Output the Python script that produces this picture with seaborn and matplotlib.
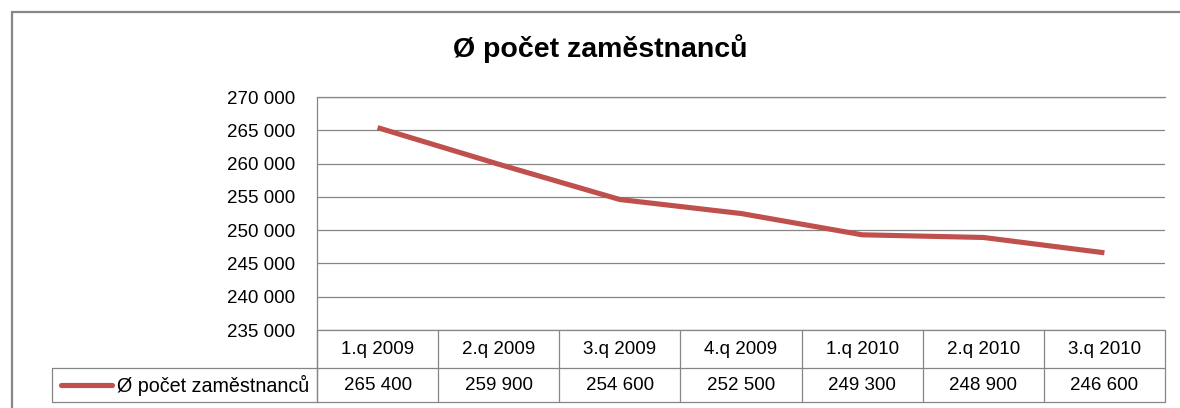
import matplotlib
matplotlib.use("Agg")
import matplotlib.pyplot as plt
import seaborn as sns
import pandas as pd
from matplotlib.lines import Line2D

# data
quarters = ["1.q 2009", "2.q 2009", "3.q 2009", "4.q 2009", "1.q 2010", "2.q 2010", "3.q 2010"]
employees = [265400, 259900, 254600, 252500, 249300, 248900, 246600]
series_name = "Ø počet zaměstnanců"
title = "Ø počet zaměstnanců"

sns.set_style("white")
plt.rcParams["font.family"] = ["Liberation Sans", "DejaVu Sans"]
plt.rcParams["text.color"] = "black"
plt.rcParams["ytick.color"] = "black"
plt.rcParams["ytick.labelcolor"] = "black"

W, H = 1180, 408
fig = plt.figure(figsize=(W / 100, H / 100), dpi=100)

def fx(px):
    return px / W

def fy(py):
    return 1 - py / H

grid_col = "#868686"
red = "#C0504D"
fs = 13.5

# plot area in pixels
L, R, T, B = 317, 1165, 97, 330
ax = fig.add_axes([fx(L), fy(B), fx(R - L), (B - T) / H])

df = pd.DataFrame({"pos": range(len(quarters)), "value": employees})
sns.lineplot(data=df, x="pos", y="value", ax=ax, color=red, linewidth=3.7,
             solid_capstyle="butt")

ax.set_xlim(-0.5, len(quarters) - 0.5)
ax.set_ylim(235000, 270000)
ax.set_yticks(range(235000, 270001, 5000))
ax.set_yticklabels([f"{v:,}".replace(",", " ") for v in range(235000, 270001, 5000)],
                   fontsize=fs, color="black")
ax.tick_params(axis="y", length=0, pad=16)
ax.set_xticks([])
ax.set_xlabel("")
ax.set_ylabel("")
ax.yaxis.grid(True, color=grid_col, linewidth=0.9)
for s in ["right", "bottom"]:
    ax.spines[s].set_visible(False)
ax.spines["top"].set_color(grid_col)
ax.spines["top"].set_linewidth(0.9)
ax.spines["left"].set_visible(False)

# title
fig.text(fx(600), fy(49), title, ha="center", va="center", fontsize=20.5, fontweight="bold")

# data table below the axes
row1_top, row1_bot, row2_bot = 330, 368, 402
leg_left = 52

def fline(x0, y0, x1, y1, lw=0.9):
    fig.add_artist(Line2D([fx(x0), fx(x1)], [fy(y0), fy(y1)], color=grid_col, linewidth=lw))

# left axis line continuing into header row
fline(L, T, L, row2_bot)
# horizontal table lines
fline(L, row1_bot, R, row1_bot)
fline(leg_left, row1_bot, L, row1_bot)
fline(leg_left, row2_bot, R, row2_bot)
fline(leg_left, row1_bot, leg_left, row2_bot)
fline(L, row1_top, R, row1_top)

to_px = lambda x: ax.transData.transform((x, 0))[0]
for i in range(len(quarters) + 1):
    xp = to_px(i - 0.5)
    fline(xp, row1_top, xp, row2_bot)

for i, (q, v) in enumerate(zip(quarters, employees)):
    xc = to_px(i)
    fig.text(fx(xc), fy((row1_top + row1_bot) / 2), q, ha="center", va="center", fontsize=fs)
    fig.text(fx(xc), fy((row1_bot + row2_bot) / 2), f"{v:,}".replace(",", " "),
             ha="center", va="center", fontsize=fs)

# legend key in table
fig.add_artist(Line2D([fx(61), fx(112)], [fy(385), fy(385)], color=red, linewidth=3.7))
fig.text(fx(117), fy(385), series_name, ha="left", va="center", fontsize=14.2)

# outer chart frame (clipped at right and bottom)
fline(12, 12, 12, H, lw=1.6)
fline(12, 12, W, 12, lw=1.6)

fig.savefig("out.png", dpi=100)
